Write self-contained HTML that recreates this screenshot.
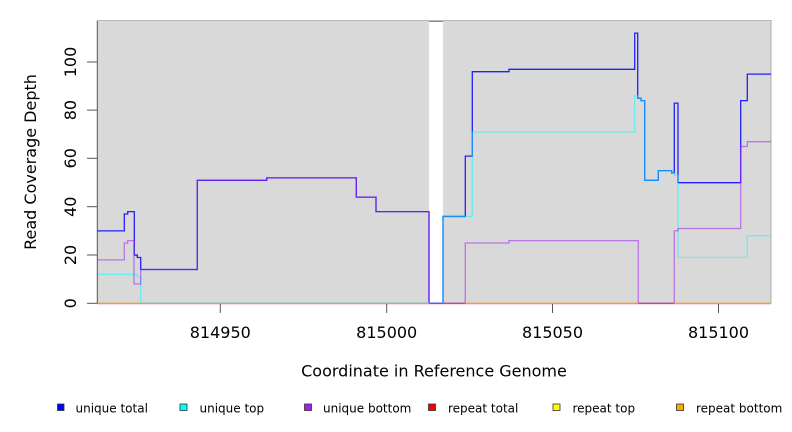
<!DOCTYPE html>
<html><head><meta charset="utf-8"><style>
html,body{margin:0;padding:0;background:#fff;}
svg{display:block;}
text{font-family:"DejaVu Sans","Liberation Sans",sans-serif;fill:#000;}
</style></head><body>
<svg width="792" height="432" viewBox="0 0 792 432" xmlns="http://www.w3.org/2000/svg">
<!-- plot background -->
<rect x="97" y="20" width="674" height="283.5" fill="#d9d9d9"/>
<line x1="97" y1="20.5" x2="771" y2="20.5" stroke="#b8b8b8" stroke-width="1"/>
<rect x="429" y="21" width="14" height="282.5" fill="#ffffff"/>
<line x1="429" y1="21.5" x2="443" y2="21.5" stroke="#888" stroke-width="1"/>
<line x1="771" y1="20" x2="771" y2="303.5" stroke="#aaa" stroke-width="1"/>

<!-- series -->
<polyline fill="none" stroke="#0000ff" stroke-opacity="0.85" stroke-width="1.3" points="97,230.9 124.3,230.9 124.3,214.0 127.7,214.0 127.7,211.6 134.3,211.6 134.3,255.05 137.3,255.05 137.3,257.5 140.7,257.5 140.7,269.5 197.3,269.5 197.3,180.3 266.7,180.3 266.7,177.85 356.3,177.85 356.3,197.15 376,197.15 376,211.6 429,211.6 429,303.3 443,303.3 443,216.45 465.3,216.45 465.3,156.1 472.3,156.1 472.3,71.7 509,71.7 509,69.3 634.7,69.3 634.7,33.1 637.7,33.1 637.7,98.2 641,98.2 641,100.65 644.7,100.65 644.7,180.3 658.3,180.3 658.3,170.6 671.7,170.6 671.7,173.0 674.3,173.0 674.3,103.1 678,103.1 678,182.7 740.7,182.7 740.7,100.65 747.3,100.65 747.3,74.1 771,74.1"/>
<polyline fill="none" stroke="#00ffff" stroke-opacity="0.5" stroke-width="1.3" points="97,274.35 137.3,274.35 137.3,276.8 140.7,276.8 140.7,303.3 443,303.3 443,216.45 472.3,216.45 472.3,132.0 634.7,132.0 634.7,95.8 637.7,95.8 637.7,98.2 641,98.2 641,100.65 644.7,100.65 644.7,180.3 658.3,180.3 658.3,170.6 671.7,170.6 671.7,173.0 674.3,173.0 674.3,175.4 678,175.4 678,257.5 747.3,257.5 747.3,235.75 771,235.75"/>
<polyline fill="none" stroke="#a020f0" stroke-opacity="0.55" stroke-width="1.3" points="97,259.9 124.3,259.9 124.3,243.0 127.7,243.0 127.7,240.6 134,240.6 134,284.0 140.7,284.0 140.7,269.5 197.3,269.5 197.3,180.3 266.7,180.3 266.7,177.85 356.3,177.85 356.3,197.15 376,197.15 376,211.6 429,211.6 429,303.3 465.3,303.3 465.3,243.0 509,243.0 509,240.6 638.3,240.6 638.3,303.3 674.3,303.3 674.3,230.9 678,230.9 678,228.5 740.7,228.5 740.7,146.5 747.3,146.5 747.3,141.7 771,141.7"/>

<!-- repeat series at zero -->
<g stroke-width="1.3">
<line x1="97" y1="303.3" x2="140.7" y2="303.3" stroke="#f0a030"/>
<line x1="140.7" y1="303.3" x2="429" y2="303.3" stroke="#8cc08c"/>
<line x1="443" y1="303.3" x2="465.3" y2="303.3" stroke="#b8508c"/>
<line x1="465.3" y1="303.3" x2="638.3" y2="303.3" stroke="#f0a030"/>
<line x1="638.3" y1="303.3" x2="674.3" y2="303.3" stroke="#b8508c"/>
<line x1="674.3" y1="303.3" x2="771" y2="303.3" stroke="#f0a030"/>
</g>
<line x1="97" y1="304.6" x2="771" y2="304.6" stroke="#f8dada" stroke-width="1"/>

<!-- y axis -->
<line x1="97.3" y1="21" x2="97.3" y2="303.5" stroke="#555" stroke-width="1"/>
<g stroke="#555" stroke-width="1">
<line x1="87" y1="303.3" x2="97" y2="303.3"/>
<line x1="87" y1="255" x2="97" y2="255"/>
<line x1="87" y1="206.7" x2="97" y2="206.7"/>
<line x1="87" y1="158.3" x2="97" y2="158.3"/>
<line x1="87" y1="110.1" x2="97" y2="110.1"/>
<line x1="87" y1="62" x2="97" y2="62"/>
</g>
<g font-size="16" text-anchor="middle">
<text transform="translate(76,303.3) rotate(-90)">0</text>
<text transform="translate(76,255) rotate(-90)">20</text>
<text transform="translate(76,206.7) rotate(-90)">40</text>
<text transform="translate(76,158.3) rotate(-90)">60</text>
<text transform="translate(76,110.1) rotate(-90)">80</text>
<text transform="translate(76,62) rotate(-90)">100</text>
</g>
<text font-size="16" text-anchor="middle" transform="translate(36,162) rotate(-90)">Read Coverage Depth</text>

<!-- x axis -->
<g stroke="#555" stroke-width="1">
<line x1="220.3" y1="304" x2="220.3" y2="313"/>
<line x1="386.7" y1="304" x2="386.7" y2="313"/>
<line x1="552.5" y1="304" x2="552.5" y2="313"/>
<line x1="718.5" y1="304" x2="718.5" y2="313"/>
</g>
<g font-size="16" text-anchor="middle">
<text x="220.3" y="338">814950</text>
<text x="386.7" y="338">815000</text>
<text x="552.5" y="338">815050</text>
<text x="718.5" y="338">815100</text>
</g>
<text x="434" y="376.5" font-size="16" text-anchor="middle">Coordinate in Reference Genome</text>

<!-- legend -->
<g stroke="#333" stroke-width="0.8">
<rect x="57.5" y="404" width="6.5" height="6.5" fill="#0000ff"/>
<rect x="180" y="404" width="7" height="6.5" fill="#00ffff"/>
<rect x="304.5" y="404" width="7" height="6.5" fill="#a020f0"/>
<rect x="428.5" y="404" width="7" height="6.5" fill="#ff0000"/>
<rect x="553" y="404" width="7" height="6.5" fill="#ffff00"/>
<rect x="676.5" y="404" width="7" height="6.5" fill="#ffa500"/>
</g>
<g font-size="12">
<text x="75.5" y="412.5">unique total</text>
<text x="199.5" y="412.5">unique top</text>
<text x="323" y="412.5">unique bottom</text>
<text x="448" y="412.5">repeat total</text>
<text x="572.5" y="412.5">repeat top</text>
<text x="696" y="412.5">repeat bottom</text>
</g>
</svg>
</body></html>
